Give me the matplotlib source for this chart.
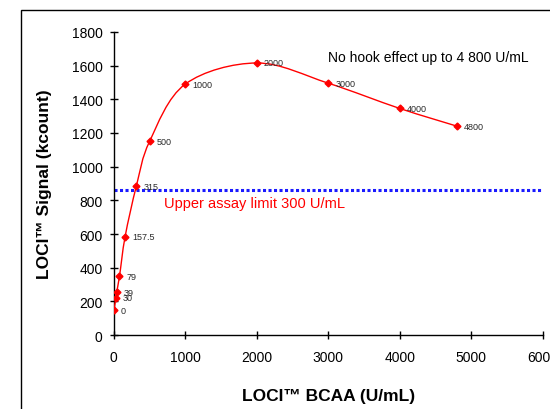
import numpy as np
import matplotlib
matplotlib.use("Agg")
import matplotlib.pyplot as plt
from matplotlib.path import Path
from matplotlib.patches import PathPatch, Rectangle

plt.rcParams['font.family'] = ['Liberation Sans', 'DejaVu Sans']

# concentrations (U/mL) and signal (kcount)
conc = [0, 30, 39, 79, 157.5, 315, 500, 1000, 2000, 3000, 4000, 4800]
signal = [148, 222, 255, 350, 585, 885, 1150, 1490, 1615, 1495, 1345, 1240]
point_labels = ["0", "30", "39", "79", "157.5", "315", "500", "1000", "2000",
                "3000", "4000", "4800"]
assay_limit = 860

fig = plt.figure(figsize=(5.5, 4.1), dpi=100)
ax = fig.add_axes([0.207, 0.180, 0.780, 0.740])

# outer frame like the pasted chart object
fig.patches.append(Rectangle((21 / 550, -0.05), 1.2, 1 - 11 / 410 + 0.05,
                             transform=fig.transFigure, fill=False,
                             edgecolor='black', linewidth=1.0))

ax.set_xlim(0, 6000)
ax.set_ylim(0, 1800)


def smooth_path(xs, ys, t=1 / 6.0):
    # bezier through the points, built in display coords
    pts = ax.transData.transform(np.column_stack([xs, ys]))
    verts = [pts[0]]
    codes = [Path.MOVETO]
    n = len(pts)
    for i in range(n - 1):
        p0 = pts[i - 1] if i > 0 else pts[i]
        p1 = pts[i]
        p2 = pts[i + 1]
        p3 = pts[i + 2] if i + 2 < n else pts[i + 1]
        c1 = p1 + (p2 - p0) * t
        c2 = p2 - (p3 - p1) * t
        verts += [c1, c2, p2]
        codes += [Path.CURVE4] * 3
    verts = ax.transData.inverted().transform(np.array(verts))
    return Path(verts, codes)


ax.add_patch(PathPatch(smooth_path(conc, signal), facecolor='none',
                       edgecolor='red', linewidth=1.0, zorder=3))
ax.plot(conc, signal, linestyle='none', marker='D', markersize=3.5,
        color='red', zorder=4)

for x, y, lab in zip(conc, signal, point_labels):
    ax.annotate(lab, (x, y), xytext=(5, 0), textcoords='offset points',
                fontsize=6.5, color='#2a2a2a', va='center')

ax.axhline(assay_limit, color='#1a1aff', linestyle=(0, (1, 0.8)),
           linewidth=2.2, zorder=2)

ax.text(700, 760, "Upper assay limit 300 U/mL", color='red', fontsize=10.5)
ax.text(3000, 1625, "No hook effect up to 4 800 U/mL", color='black',
        fontsize=10)

ax.set_xticks(np.arange(0, 6001, 1000))
ax.set_yticks(np.arange(0, 1801, 200))
ax.tick_params(direction='inout', length=6, width=1, labelsize=10)
ax.tick_params(axis='x', pad=8)
ax.tick_params(axis='y', pad=5)

for s in ['top', 'right']:
    ax.spines[s].set_visible(False)
for s in ['left', 'bottom']:
    ax.spines[s].set_linewidth(1.0)

ax.set_xlabel("LOCI™ BCAA (U/mL)", fontsize=12.5, fontweight='bold',
              labelpad=17)
ax.set_ylabel("LOCI™ Signal (kcount)", fontsize=12.5, fontweight='bold',
              labelpad=14)

fig.savefig("out.png", dpi=100)
